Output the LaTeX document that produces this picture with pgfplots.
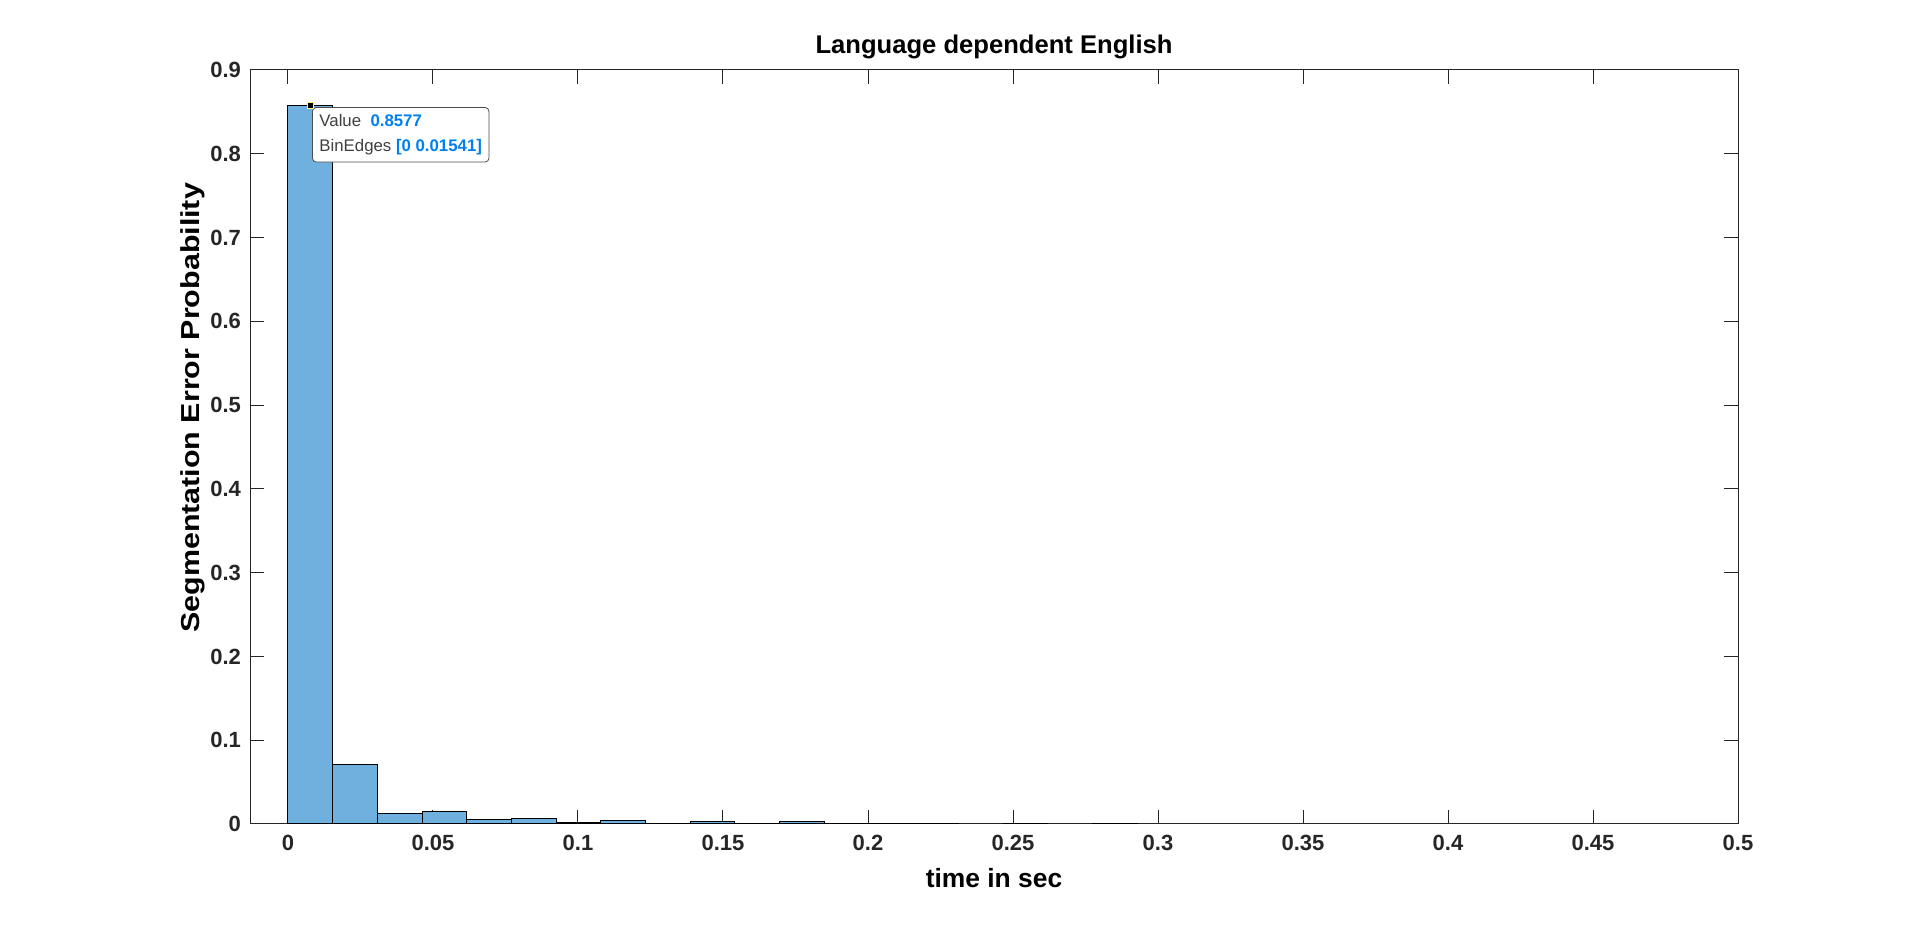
\documentclass[border=0pt]{standalone}
\usepackage{pgfplots}
\pgfplotsset{compat=1.18}
\usepackage{fontspec}
\setmainfont{Liberation Sans}
\definecolor{barfill}{RGB}{112,176,222}
\definecolor{tipblue}{RGB}{0,128,240}
\begin{document}
\begin{tikzpicture}
\path (0,0) rectangle (959pt,462.5pt);
\begin{axis}[
  at={(125pt,50.5pt)}, anchor=south west,
  scale only axis, width=744pt, height=377pt,
  xmin=-0.0131, xmax=0.5, ymin=0, ymax=0.9,
  xtick={0,0.05,...,0.5}, ytick={0,0.1,...,0.9},
  xticklabels={0,0.05,0.1,0.15,0.2,0.25,0.3,0.35,0.4,0.45,0.5},
  yticklabels={0,0.1,0.2,0.3,0.4,0.5,0.6,0.7,0.8,0.9},
  tick align=inside, major tick length=7pt,
  tick style={black!85, line width=0.5pt},
  axis line style={black!85, line width=0.5pt},
  ticklabel style={font=\fontsize{11}{13}\selectfont\bfseries, text=black!85},
  xticklabel style={yshift=-2pt},
  yticklabel style={xshift=-1pt},
  title={\fontsize{12.8}{15}\selectfont\bfseries Language dependent English},
  title style={yshift=-4pt},
  xlabel={\fontsize{13.2}{15}\selectfont\bfseries time in sec},
  xlabel style={yshift=-2pt},
  ylabel={\fontsize{13}{15}\selectfont\bfseries\scalebox{1.17}[1]{Segmentation Error Probability}},
  ylabel style={at={(ticklabel cs:0.552)}, yshift=-4pt},
  clip=false,
]
\addplot[ybar interval, fill=barfill, draw=black, line width=0.5pt] coordinates {
(0.00000,0.8577)
(0.01541,0.0705)
(0.03082,0.0130)
(0.04623,0.0155)
(0.06164,0.0048)
(0.07705,0.0068)
(0.09246,0.0022)
(0.10787,0.0046)
(0.12328,0.0010)
(0.13869,0.0025)
(0.15410,0.0010)
(0.16951,0.0025)
(0.18492,0.0008)
(0.20033,0.0008)
(0.21574,0.0008)
(0.23115,0.0000)
(0.24656,0.0007)
(0.26197,0.0000)
(0.27738,0.0007)
(0.29279,0.0007)
};
\addplot[only marks, mark=square*, mark size=1.6pt, black, mark options={draw=yellow!60!white, line width=0.3pt}] coordinates {(0.0077,0.8577)};
\node[draw=black!70, fill=white, rounded corners=2pt, anchor=north west, align=left,
  inner sep=3.5pt, font=\fontsize{8.4}{12.5}\selectfont, text=black!75]
  at (axis cs:0.0083,0.8558)
  {Value\ \ {\bfseries\color{tipblue}0.8577}\\BinEdges\ {\bfseries\color{tipblue}[0 0.01541]}};
\end{axis}
\end{tikzpicture}
\end{document}
